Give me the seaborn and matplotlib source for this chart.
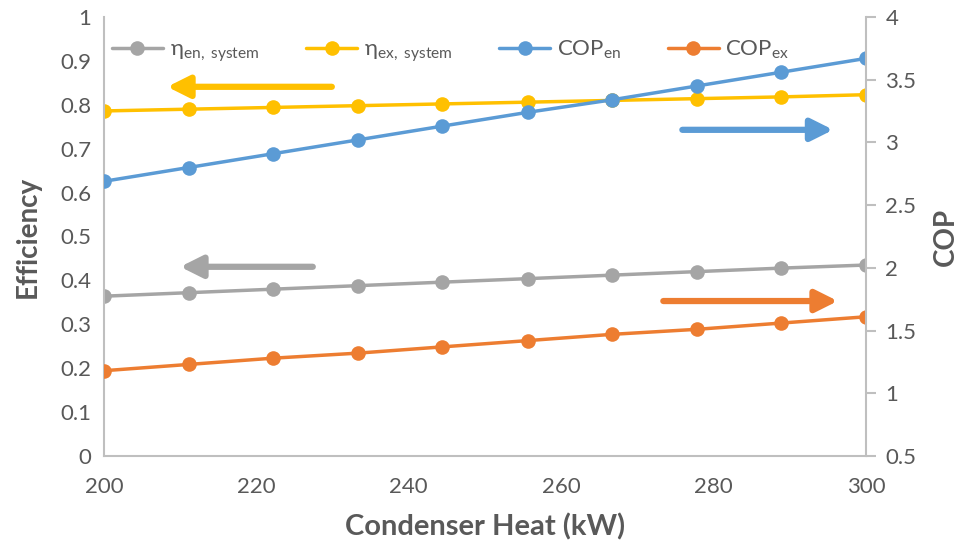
import numpy as np
import pandas as pd
import matplotlib
matplotlib.use("Agg")
import matplotlib.pyplot as plt
import seaborn as sns

# Condenser heat values (kW)
condenser_heat = [200.0, 211.1, 222.2, 233.3, 244.4, 255.6, 266.7, 277.8, 288.9, 300.0]

# Efficiencies (left axis)
eta_en_system = [0.364, 0.372, 0.380, 0.388, 0.396, 0.404, 0.412, 0.420, 0.428, 0.435]
eta_ex_system = [0.786, 0.790, 0.794, 0.798, 0.802, 0.806, 0.810, 0.814, 0.818, 0.823]

# Coefficients of performance (right axis)
cop_en = [2.69, 2.80, 2.91, 3.02, 3.13, 3.24, 3.34, 3.45, 3.56, 3.67]
cop_ex = [1.18, 1.23, 1.28, 1.32, 1.37, 1.42, 1.47, 1.51, 1.56, 1.61]

x_ticks = [200, 220, 240, 260, 280, 300]
eff_ticks = [0, 0.1, 0.2, 0.3, 0.4, 0.5, 0.6, 0.7, 0.8, 0.9, 1]
cop_ticks = [0.5, 1, 1.5, 2, 2.5, 3, 3.5, 4]

GRAY = "#A5A5A5"
YELLOW = "#FFC000"
BLUE = "#5B9BD5"
ORANGE = "#ED7D31"
TEXT = "#595959"
AXIS = "#BFBFBF"

sns.set_theme(style="white")
plt.rcParams["font.family"] = ["Lato", "DejaVu Sans"]
plt.rcParams["mathtext.fontset"] = "custom"
plt.rcParams["mathtext.rm"] = "Lato"
plt.rcParams["mathtext.it"] = "Lato"
plt.rcParams["mathtext.default"] = "rm"

df = pd.DataFrame({
    "heat": condenser_heat,
    "eta_en": eta_en_system,
    "eta_ex": eta_ex_system,
    "cop_en": cop_en,
    "cop_ex": cop_ex,
})

fig = plt.figure(figsize=(9.61, 5.48), dpi=100)
ax = fig.add_axes([104 / 961, 1 - 456 / 548, (866 - 104) / 961, (456 - 17) / 548])
ax2 = ax.twinx()

line_kw = dict(marker="o", markersize=10.5, linewidth=2.5, markeredgewidth=0)
sns.lineplot(data=df, x="heat", y="eta_en", ax=ax, color=GRAY,
             label=r"$\eta_{\mathrm{en,\ system}}$", **line_kw)
sns.lineplot(data=df, x="heat", y="eta_ex", ax=ax, color=YELLOW,
             label=r"$\eta_{\mathrm{ex,\ system}}$", **line_kw)
sns.lineplot(data=df, x="heat", y="cop_en", ax=ax2, color=BLUE,
             label=r"COP$_{\mathrm{en}}$", **line_kw)
sns.lineplot(data=df, x="heat", y="cop_ex", ax=ax2, color=ORANGE,
             label=r"COP$_{\mathrm{ex}}$", **line_kw)

ax.set_xlim(200, 300)
ax.set_ylim(0, 1)
ax2.set_ylim(0.5, 4)
ax.set_xticks(x_ticks)
ax.set_yticks(eff_ticks)
ax.set_yticklabels([f"{t:g}" for t in eff_ticks])
ax2.set_yticks(cop_ticks)
ax2.set_yticklabels([f"{t:g}" for t in cop_ticks])

for a in (ax, ax2):
    a.grid(False)
    for s in a.spines.values():
        s.set_visible(False)
ax.spines["left"].set_visible(True)
ax.spines["bottom"].set_visible(True)
ax2.spines["right"].set_visible(True)
for s in (ax.spines["left"], ax.spines["bottom"], ax2.spines["right"]):
    s.set_color(AXIS)
    s.set_linewidth(1.5)

ax.tick_params(axis="both", which="both", length=0, labelsize=16, colors=TEXT, pad=9)
ax.tick_params(axis="x", pad=15)
ax2.tick_params(axis="y", length=7, width=1.5, color=AXIS, labelsize=16,
                labelcolor=TEXT, pad=7, direction="out")

ax.set_xlabel("Condenser Heat (kW)", fontsize=21, fontweight="bold", color=TEXT, labelpad=12)
ax.set_ylabel("Efficiency", fontsize=20, fontweight="bold", color=TEXT, labelpad=14)
ax2.set_ylabel("COP", fontsize=20, fontweight="bold", color=TEXT, labelpad=12)

# Direction arrows pointing to each series' axis
def arrow(start, end, color):
    ax.annotate("", xy=end, xytext=start,
                arrowprops=dict(arrowstyle="-|>,head_length=1.1,head_width=0.55",
                                color=color, lw=4.5, shrinkA=0, shrinkB=0))

arrow((229.9, 0.841), (208.3, 0.841), YELLOW)
arrow((275.9, 0.743), (295.7, 0.743), BLUE)
arrow((227.4, 0.431), (210.0, 0.431), GRAY)
arrow((273.4, 0.353), (296.3, 0.353), ORANGE)

# Combined legend across both axes
h1, l1 = ax.get_legend_handles_labels()
h2, l2 = ax2.get_legend_handles_labels()
if ax.get_legend():
    ax.get_legend().remove()
ax2.legend(h1 + h2, l1 + l2, loc="upper left", bbox_to_anchor=(-0.01, 0.985),
           ncol=4, frameon=False, fontsize=16, labelcolor=TEXT,
           handlelength=2.3, columnspacing=2.1, handletextpad=0.3,
           borderaxespad=0.3)

fig.savefig("out.png", dpi=100)
